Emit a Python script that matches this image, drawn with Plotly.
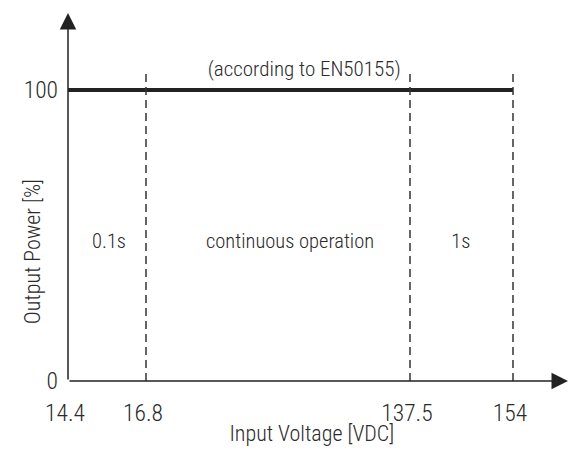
import numpy as np
import plotly.graph_objects as go

# ---- data ----
voltage_ticks = [14.4, 16.8, 137.5, 154]
tick_labels = ["14.4", "16.8", "137.5", "154"]
power_ticks = [0, 100]
power_line_v = [14.4, 154]
power_line_p = [100, 100]
boundary_v = [16.8, 137.5, 154]
boundary_top = 106
region_labels = ["0.1s", "continuous operation", "1s"]
region_label_y = 48
note_text = "(according to EN50155)"
note_y = 107.2

# ---- layout (the original axis is not drawn to a linear voltage scale) ----
tick_pos = [0, 78, 342, 445]
region_label_pos = [41, 222, 393]
note_pos = 236


def pos(v):
    return np.interp(v, voltage_ticks, tick_pos)


FONT = "Roboto, sans-serif"
W = 300
TXT = "#2a2a2a"
LINE = "#222222"


def f(size):
    return dict(family=FONT, size=size, color=TXT, weight=W)


fig = go.Figure()

fig.add_trace(go.Scatter(x=pos(power_line_v), y=power_line_p, mode="lines",
                         line=dict(color=LINE, width=4), showlegend=False,
                         hoverinfo="skip"))
for v in boundary_v:
    fig.add_trace(go.Scatter(x=[pos(v), pos(v)], y=[0, boundary_top], mode="lines",
                             line=dict(color="#333333", width=1.5, dash="8px,5px"),
                             showlegend=False, hoverinfo="skip"))

annotations = []
for lab, xp in zip(region_labels, region_label_pos):
    annotations.append(dict(x=xp, y=region_label_y, xref="x", yref="y",
                            text=lab, showarrow=False, font=f(20.5)))
annotations.append(dict(x=note_pos, y=note_y, xref="x", yref="y", text=note_text,
                        showarrow=False, font=f(21)))
# axes with arrow heads
annotations.append(dict(x=500, y=0, ax=0, ay=0, xref="x", yref="y", axref="x", ayref="y",
                        text="", showarrow=True, arrowhead=2, arrowsize=2.2,
                        arrowwidth=1.5, arrowcolor=LINE))
annotations.append(dict(x=0, y=126.5, ax=0, ay=0, xref="x", yref="y", axref="x", ayref="y",
                        text="", showarrow=True, arrowhead=2, arrowsize=2.2,
                        arrowwidth=1.5, arrowcolor=LINE))
# axis titles
annotations.append(dict(x=244, y=0, xref="x", yref="paper", yanchor="middle",
                        yshift=-52, text="Input Voltage [VDC]", showarrow=False, font=f(22)))
annotations.append(dict(x=0, y=0.35, xref="paper", yref="paper", xshift=-50,
                        text="Output Power [%]", textangle=-90, showarrow=False, font=f(22)))

fig.update_layout(
    width=568, height=450,
    margin=dict(l=68, r=0, t=13, b=69),
    paper_bgcolor="white", plot_bgcolor="white",
    annotations=annotations,
    xaxis=dict(range=[0, 500], tickvals=pos(voltage_ticks), ticktext=tick_labels,
               showgrid=False, zeroline=False, showline=False, ticks="",
               ticklabelstandoff=15, ticklabelshift=-3, tickfont=f(23.5)),
    yaxis=dict(range=[0, 126.5], tickvals=power_ticks, ticktext=[str(p) for p in power_ticks],
               showgrid=False, zeroline=False, showline=False, ticks="",
               ticklabelstandoff=9, tickfont=f(23.5)),
)

js = """
document.body.style.margin = '0';
var st = document.createElement('style');
st.innerHTML = '.main-svg text { font-stretch: 75% !important; }';
document.head.appendChild(st);
"""
fig.write_html("out.html", config={"displayModeBar": False}, post_script=js)
